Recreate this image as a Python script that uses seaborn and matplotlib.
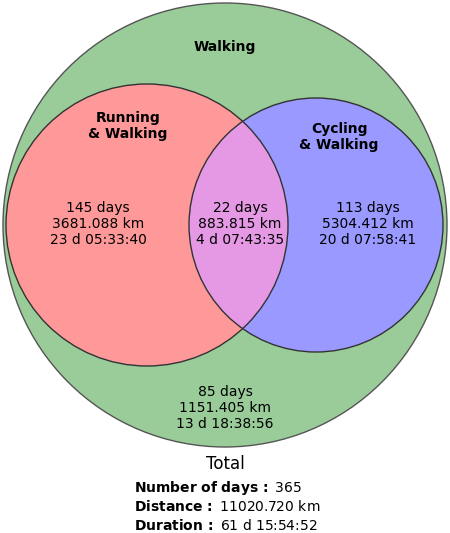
import matplotlib
matplotlib.use("Agg")
import matplotlib.pyplot as plt
from matplotlib.patches import Circle
import seaborn as sns

# Region summaries (Walking only, Running & Walking, both, Cycling & Walking)
region_names = ["Walking", "Running\n& Walking", "Cycling\n& Walking"]
region_days = [85, 145, 22, 113]
region_km = ["1151.405", "3681.088", "883.815", "5304.412"]
region_time = ["13 d 18:38:56", "23 d 05:33:40", "4 d 07:43:35", "20 d 07:58:41"]

total_labels = ["Number of days", "Distance", "Duration"]
total_values = ["365", "11020.720 km", "61 d 15:54:52"]

sns.set_theme(style="white")
plt.rcParams['font.family'] = ['DejaVu Sans']

fig = plt.figure(figsize=(4.5, 5.33), dpi=100)
ax = fig.add_axes([0, 0, 1, 1])
ax.set_xlim(0, 450)
ax.set_ylim(533, 0)
ax.axis("off")

green, red, blue, mix = "#99cc99", "#ff9999", "#9999ff", "#e599e5"

# circles: walking (outer), running, cycling
walk = Circle((225, 225), 222, facecolor=green, edgecolor="#555555", lw=1)
run = Circle((147, 225), 141, facecolor=red, edgecolor="none")
cyc = Circle((316, 225), 127, facecolor=blue, edgecolor="none")
ax.add_patch(walk)
ax.add_patch(run)
ax.add_patch(cyc)
both = Circle((316, 225), 127, facecolor=mix, edgecolor="none")
ax.add_patch(both)
both.set_clip_path(run)
for c in [(147, 225, 141), (316, 225, 127)]:
    ax.add_patch(Circle(c[:2], c[2], facecolor="none", edgecolor="#333333", lw=1))

# set labels
label_pos = [(225, 47), (128, 126), (339, 137)]
for name, (x, y) in zip(region_names, label_pos):
    ax.text(x, y, name, ha="center", va="center", fontsize=10,
            fontweight="bold", color="black", linespacing=1.15)

# region values
value_pos = [(225, 408), (98, 224), (240, 224), (368, 224)]
for d, km, t, (x, y) in zip(region_days, region_km, region_time, value_pos):
    ax.text(x, y, f"{d} days\n{km} km\n{t}", ha="center", va="center",
            fontsize=10, color="black", linespacing=1.15)

ax.text(225, 464, "Total", ha="center", va="center", fontsize=12, color="black")
for i, (lab, val) in enumerate(zip(total_labels, total_values)):
    lab_tex = lab.replace(" ", r"\ ")
    ax.text(134, 488 + i * 18.5, r"$\bf{" + lab_tex + r"\,:}$ " + val,
            ha="left", va="center", fontsize=10, color="black")

fig.savefig("out.png", dpi=100)
